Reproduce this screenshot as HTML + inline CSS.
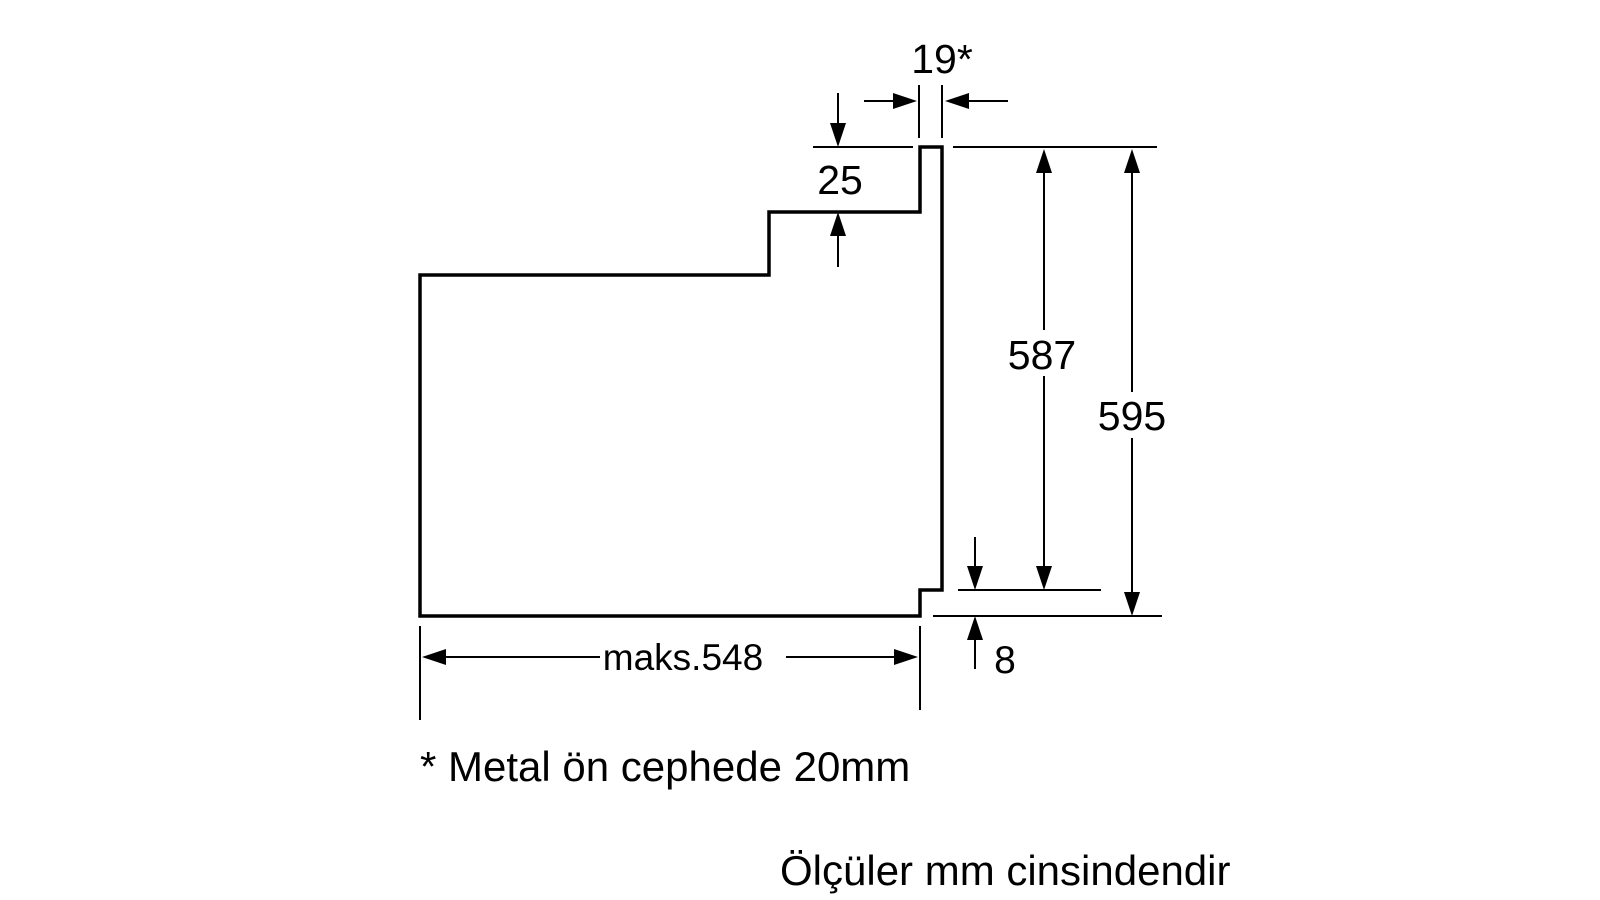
<!DOCTYPE html>
<html><head><style>html,body{margin:0;padding:0;background:#fff}svg{display:block}text{font-family:"Liberation Sans",sans-serif;fill:#000}</style></head>
<body>
<svg width="1600" height="900" viewBox="0 0 1600 900" xmlns="http://www.w3.org/2000/svg">
<g fill="none" stroke="#000" stroke-width="3.5">
<path d="M420,616 V275 H769 V212 H920 V147 H942 V590 H920 V616 Z"/>
</g>
<g stroke="#000" stroke-width="2" fill="none">
<line x1="813" y1="147" x2="913" y2="147"/>
<line x1="953" y1="147" x2="1157" y2="147"/>
<line x1="958" y1="590" x2="1101" y2="590"/>
<line x1="933" y1="616" x2="1162" y2="616"/>
<line x1="919" y1="85" x2="919" y2="138"/>
<line x1="942" y1="85" x2="942" y2="138"/>
<line x1="420" y1="626" x2="420" y2="720"/>
<line x1="920" y1="626" x2="920" y2="710"/>
</g>
<g fill="#000">
<line x1="864" y1="101" x2="900" y2="101" stroke="#000" stroke-width="2"/><path d="M917,101 L893,93 L893,109 Z"/>
<line x1="965" y1="101" x2="1008" y2="101" stroke="#000" stroke-width="2"/><path d="M945,101 L969,93 L969,109 Z"/>
<line x1="838" y1="93" x2="838" y2="130" stroke="#000" stroke-width="2"/><path d="M838,147 L830,123 L846,123 Z"/>
<line x1="838" y1="230" x2="838" y2="267" stroke="#000" stroke-width="2"/><path d="M838,212 L830,236 L846,236 Z"/>
<line x1="1044" y1="165" x2="1044" y2="572" stroke="#000" stroke-width="2"/>
<path d="M1044,149 L1036,173 L1052,173 Z"/><path d="M1044,590 L1036,566 L1052,566 Z"/>
<line x1="1132" y1="165" x2="1132" y2="598" stroke="#000" stroke-width="2"/>
<path d="M1132,149 L1124,173 L1140,173 Z"/><path d="M1132,616 L1124,592 L1140,592 Z"/>
<line x1="975" y1="537" x2="975" y2="572" stroke="#000" stroke-width="2"/><path d="M975,590 L967,566 L983,566 Z"/>
<line x1="975" y1="634" x2="975" y2="669" stroke="#000" stroke-width="2"/><path d="M975,616 L967,640 L983,640 Z"/>
<line x1="436" y1="657" x2="600" y2="657" stroke="#000" stroke-width="2"/><path d="M422,657 L446,649 L446,665 Z"/>
<line x1="786" y1="657" x2="905" y2="657" stroke="#000" stroke-width="2"/><path d="M918,657 L894,649 L894,665 Z"/>
</g>
<g font-size="41">
<rect x="1010" y="330" width="70" height="46" fill="#fff"/>
<rect x="1098" y="392" width="72" height="46" fill="#fff"/>
<text x="942" y="73" text-anchor="middle">19*</text>
<text x="840" y="194" text-anchor="middle">25</text>
<text x="1042" y="369" text-anchor="middle">587</text>
<text x="1132" y="430" text-anchor="middle">595</text>
<text x="1005" y="673" text-anchor="middle" font-size="39">8</text>
<text x="683" y="670" text-anchor="middle" font-size="37">maks.548</text>
<text x="420" y="781" font-size="42">* Metal ön cephede 20mm</text>
<text x="780" y="885" font-size="42">Ölçüler mm cinsindendir</text>
</g>
</svg>
</body></html>
